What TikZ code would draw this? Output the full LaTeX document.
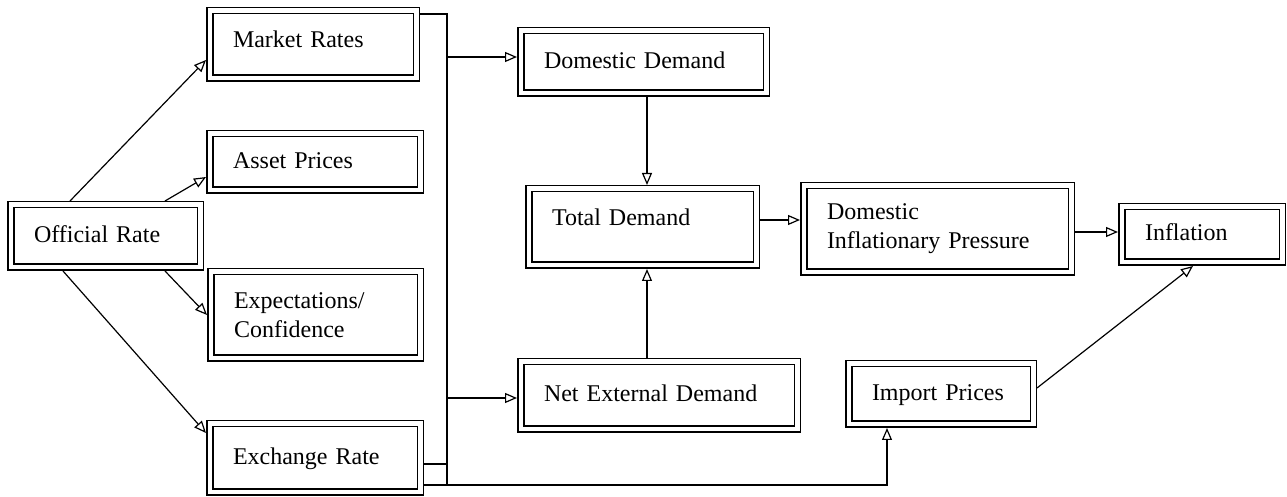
\documentclass[tikz,border=0pt]{standalone}
\usepackage{fontspec}
\setmainfont{Liberation Serif}
\usetikzlibrary{arrows.meta}
\begin{document}
\begin{tikzpicture}[x=0.5pt,y=-0.5pt,
  box/.style={draw, line width=0.75pt, double, double distance=2.25pt,
    outer sep=1.875pt, inner xsep=11.625pt, inner ysep=1pt, align=left,
    font=\fontsize{12}{14.5}\selectfont, anchor=center},
  one/.style={text height=9pt, text depth=2.5pt},
  arr/.style={line width=0.6pt, -{Triangle[open,length=6pt,width=5pt]}},
  ln/.style={line width=0.6pt}]
\useasboundingbox (0,0) rectangle (1287,497);

% boxes
\node[box, one, minimum width=94.75pt, minimum height=31.25pt, text width=71.5pt] (off) at (105.5,236) {Official Rate};
\node[box, one, text depth=5.9pt, minimum width=103.25pt, minimum height=33.75pt, text width=80pt] (mkt) at (313,44.5) {Market Rates};
\node[box, one, minimum width=105.25pt, minimum height=28.25pt, text width=82pt] (asset) at (315,162) {Asset Prices};
\node[box, minimum width=104.75pt, minimum height=43.25pt, text width=81.5pt] (expect) at (315.5,315) {Expectations/\\Confidence};
\node[box, one, minimum width=105.25pt, minimum height=34.25pt, text width=82pt] (exch) at (315,458) {Exchange Rate};
\node[box, one, minimum width=122.75pt, minimum height=31.25pt, text width=99.5pt] (dd) at (643.5,62) {Domestic Demand};
\node[box, one, text depth=10.4pt, minimum width=113.75pt, minimum height=38.25pt, text width=90.5pt] (td) at (642.5,227) {Total Demand};
\node[box, one, minimum width=138.25pt, minimum height=33.75pt, text width=115pt] (ned) at (659,395.5) {\mbox{Net External Demand}};
\node[box, minimum width=133.75pt, minimum height=43.25pt, text width=110.5pt] (dip) at (937.5,229) {Domestic\\\mbox{Inflationary Pressure}};
\node[box, one, minimum width=80.25pt, minimum height=27.75pt, text width=57pt] (infl) at (1202,234.5) {Inflation};
\node[box, one, minimum width=92.25pt, minimum height=30.25pt, text width=69pt] (imp) at (941,394) {Import Prices};

% bus
\coordinate (bt) at (447,14);
\coordinate (bb) at (447,485);

% official rate fan-out
\draw[arr] ([xshift=31.5pt]off.north west) -- ([yshift=-7.75pt]mkt.west);
\draw[arr] ([xshift=79pt]off.north west) -- ([yshift=-7.5pt]asset.west);
\draw[arr] ([xshift=79pt]off.south west) -- (expect.west);
\draw[arr] ([xshift=28pt]off.south west) -- ([yshift=12.5pt]exch.west);

% bus lines
\draw[ln] ([yshift=15.25pt]mkt.east) -- (bt) -- (bb);
\draw[ln] ([yshift=-3pt]exch.east) -- ([yshift=-3pt]exch.east -| bt);
\coordinate (ddin) at ([yshift=2.5pt]dd.west);
\coordinate (nedin) at ([yshift=-1.25pt]ned.west);
\draw[arr] (bt |- ddin) -- (ddin);
\draw[arr] (bt |- nedin) -- (nedin);
\draw[arr] ([yshift=-13.5pt]exch.east) -| ([xshift=-27pt]imp.south);

% demand links
\coordinate (ddout) at ([xshift=1.75pt]dd.south);
\draw[arr] (ddout) -- (ddout |- td.north);
\coordinate (nedout) at ([xshift=-6pt]ned.north);
\draw[arr] (nedout) -- (nedout |- td.south);
\coordinate (tdout) at ([yshift=3.5pt]td.east);
\draw[arr] (tdout) -- (tdout -| dip.west);
\coordinate (dipout) at ([yshift=-1.5pt]dip.east);
\draw[arr] (dipout) -- (dipout -| infl.west);
\draw[arr] ([yshift=3pt]imp.east) -- ([xshift=-4.5pt]infl.south);
\end{tikzpicture}
\end{document}
